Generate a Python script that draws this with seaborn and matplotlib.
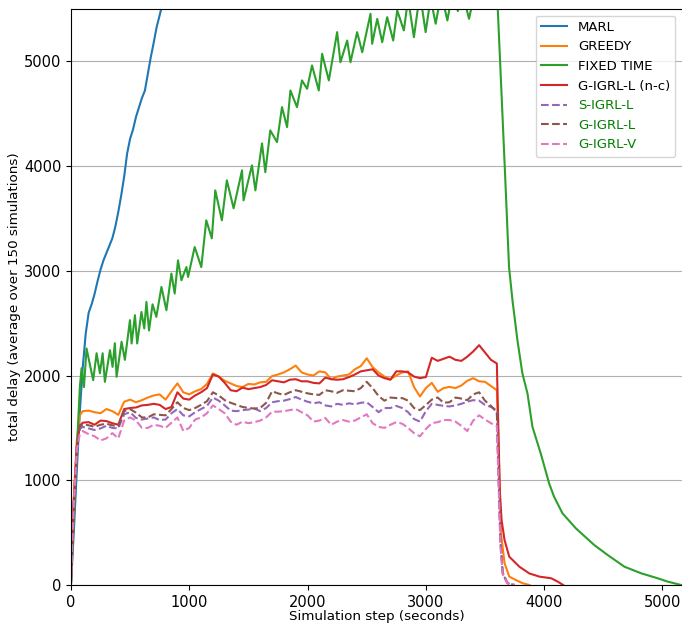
import numpy as np
import seaborn as sns
import matplotlib.pyplot as plt

# ---- data ----
marl_t = [0, 25, 50, 75, 100, 125, 150, 175, 200, 225, 250, 275, 300, 325, 350,
          375, 400, 425, 450, 475, 500, 525, 550, 575, 600, 625, 650, 675, 700,
          725, 750, 775, 800, 850]
marl_v = [0, 520, 1100, 1650, 2080, 2400, 2600, 2680, 2780, 2900, 3010, 3100,
          3170, 3240, 3310, 3420, 3560, 3720, 3900, 4120, 4260, 4350, 4470, 4560,
          4650, 4720, 4880, 5040, 5180, 5330, 5440, 5560, 5700, 5950]

fixed_t = [0, 25, 50, 76, 90, 110, 132, 188, 217, 245, 268, 287, 330, 352, 371,
           386, 428, 456, 499, 513, 541, 560, 596, 620, 638, 660, 690, 722, 765,
           807, 849, 877, 905, 934, 976, 990, 1046, 1102, 1144, 1191, 1220, 1276,
           1318, 1375, 1446, 1459, 1530, 1559, 1615, 1643, 1685, 1742, 1784, 1827,
           1855, 1911, 1953, 1996, 2038, 2095, 2123, 2180, 2250, 2278, 2335, 2363,
           2419, 2462, 2532, 2546, 2589, 2631, 2673, 2724, 2758, 2814, 2850, 2899,
           2950, 2998, 3040, 3083, 3130, 3182, 3230, 3270, 3310, 3365, 3420, 3470,
           3520, 3560, 3600, 3667, 3703, 3732, 3774, 3816, 3859, 3901, 3971, 4042,
           4084, 4155, 4268, 4423, 4537, 4678, 4819, 4960, 5045, 5158]
fixed_v = [0, 650, 1300, 1900, 2070, 1890, 2258, 1956, 2213, 2022, 2213, 1940,
           2242, 2083, 2309, 1988, 2322, 2150, 2529, 2306, 2576, 2306, 2607, 2450,
           2703, 2430, 2680, 2560, 2846, 2624, 2974, 2783, 3100, 2910, 3036, 2941,
           3227, 3036, 3482, 3310, 3768, 3482, 3864, 3597, 3959, 3673, 4007, 3768,
           4217, 3942, 4341, 4229, 4563, 4372, 4722, 4563, 4818, 4738, 4961, 4722,
           5072, 4818, 5279, 4992, 5199, 4992, 5279, 5087, 5454, 5168, 5406, 5183,
           5422, 5199, 5486, 5295, 5600, 5231, 5650, 5279, 5600, 5359, 5650, 5390,
           5700, 5480, 5650, 5406, 5700, 5500, 5700, 5550, 5700, 3990, 3036, 2719,
           2337, 2020, 1829, 1510, 1256, 970, 842, 684, 541, 382, 286, 175, 112,
           64, 32, 0]

# shared time grid of the five plateau curves (seconds)
plateau_t = [0, 10, 25, 50, 75] + list(range(100, 3601, 50))

greedy_v = [0, 400, 850, 1380, 1620,
            1660, 1665, 1650, 1640, 1680, 1660, 1625, 1750, 1770, 1745,
            1765, 1790, 1810, 1820, 1770, 1850, 1925, 1840, 1820, 1850,
            1870, 1920, 2020, 1990, 1950, 1925, 1900, 1890, 1920, 1915,
            1935, 1940, 1995, 2010, 2030, 2060, 2095, 2030, 2010, 2000,
            2040, 2030, 1965, 1990, 2000, 2010, 2060, 2090, 2165, 2080,
            2030, 1990, 1965, 2000, 2030, 2040, 1890, 1800, 1880, 1930,
            1845, 1880, 1892, 1880, 1905, 1950, 1975, 1945, 1940, 1900,
            1860]
gigrl_nc_v = [0, 380, 820, 1330, 1520,
              1550, 1555, 1530, 1570, 1565, 1545, 1530, 1680, 1690, 1695,
              1715, 1720, 1730, 1720, 1680, 1700, 1840, 1780, 1770, 1810,
              1840, 1880, 2010, 1990, 1930, 1860, 1850, 1885, 1870, 1880,
              1890, 1910, 1955, 1945, 1935, 1960, 1965, 1945, 1945, 1930,
              1925, 1980, 1965, 1960, 1965, 1985, 2010, 2040, 2050, 2060,
              2000, 1975, 1960, 2040, 2040, 2030, 1990, 1975, 1985, 2170,
              2140, 2160, 2180, 2150, 2140, 2180, 2230, 2290, 2220, 2150,
              2115]
s_igrl_l_v = [0, 370, 800, 1310, 1490,
              1510, 1495, 1480, 1495, 1520, 1500, 1495, 1630, 1650, 1595,
              1580, 1590, 1600, 1575, 1580, 1640, 1680, 1620, 1610, 1650,
              1680, 1710, 1790, 1760, 1715, 1665, 1660, 1670, 1675, 1685,
              1660, 1690, 1745, 1755, 1760, 1775, 1795, 1770, 1750, 1735,
              1745, 1715, 1705, 1730, 1720, 1735, 1725, 1740, 1745, 1700,
              1650, 1690, 1690, 1710, 1690, 1650, 1585, 1560, 1660, 1730,
              1720, 1710, 1705, 1715, 1730, 1750, 1765, 1760, 1720, 1700,
              1670]
g_igrl_l_v = [0, 380, 810, 1320, 1510,
              1535, 1525, 1510, 1530, 1540, 1525, 1515, 1660, 1680, 1645,
              1600, 1600, 1630, 1625, 1620, 1680, 1745, 1690, 1670, 1690,
              1720, 1755, 1840, 1810, 1765, 1740, 1720, 1700, 1690, 1685,
              1690, 1740, 1850, 1830, 1815, 1840, 1860, 1845, 1830, 1820,
              1815, 1860, 1850, 1835, 1860, 1855, 1850, 1880, 1940, 1880,
              1805, 1760, 1790, 1785, 1785, 1760, 1690, 1670, 1718, 1770,
              1790, 1740, 1745, 1790, 1780, 1765, 1820, 1840, 1760, 1710,
              1650]
g_igrl_v_v = [0, 360, 790, 1290, 1440,
              1470, 1440, 1420, 1380, 1400, 1450, 1400, 1570, 1600, 1570,
              1500, 1500, 1530, 1520, 1500, 1550, 1600, 1470, 1500, 1580,
              1600, 1640, 1715, 1680, 1640, 1560, 1530, 1560, 1545, 1555,
              1570, 1600, 1655, 1655, 1660, 1670, 1680, 1650, 1620, 1560,
              1570, 1595, 1530, 1560, 1575, 1560, 1570, 1600, 1630, 1545,
              1510, 1500, 1530, 1555, 1540, 1500, 1450, 1420, 1490, 1545,
              1555, 1575, 1575, 1560, 1520, 1470, 1570, 1620, 1580, 1545,
              1520]

# drain-out after the demand stops at 3600 s
greedy_tail_t = [3620, 3635, 3665, 3705, 3760, 3820, 3875]
greedy_tail_v = [1100, 490, 210, 80, 48, 16, 0]
gigrl_nc_tail_t = [3625, 3640, 3665, 3705, 3790, 3875, 3960, 4060, 4115, 4160]
gigrl_nc_tail_v = [900, 620, 430, 270, 175, 110, 80, 64, 32, 0]
s_igrl_l_tail_t = [3630, 3650, 3690, 3750]
s_igrl_l_tail_v = [420, 110, 16, 0]
g_igrl_l_tail_t = [3630, 3650, 3690, 3750]
g_igrl_l_tail_v = [430, 115, 18, 0]
g_igrl_v_tail_t = [3630, 3650, 3690, 3750]
g_igrl_v_tail_v = [380, 100, 14, 0]

labels = ['MARL', 'GREEDY', 'FIXED TIME', 'G-IGRL-L (n-c)',
          'S-IGRL-L', 'G-IGRL-L', 'G-IGRL-V']
colors = sns.color_palette('tab10', 7)

series = [
    (marl_t, marl_v),
    (plateau_t + greedy_tail_t, greedy_v + greedy_tail_v),
    (fixed_t, fixed_v),
    (plateau_t + gigrl_nc_tail_t, gigrl_nc_v + gigrl_nc_tail_v),
    (plateau_t + s_igrl_l_tail_t, s_igrl_l_v + s_igrl_l_tail_v),
    (plateau_t + g_igrl_l_tail_t, g_igrl_l_v + g_igrl_l_tail_v),
    (plateau_t + g_igrl_v_tail_t, g_igrl_v_v + g_igrl_v_tail_v),
]
styles = ['-', '-', '-', '-', '--', '--', '--']

fig = plt.figure(figsize=(6.82, 6.25), dpi=100)
ax = fig.add_axes([0.104, 0.064, 0.896, 0.9216])

for (t, v), lab, col, ls in zip(series, labels, colors, styles):
    assert len(t) == len(v), lab
    sns.lineplot(x=np.array(t), y=np.array(v), ax=ax, color=col, linestyle=ls,
                 linewidth=1.5, label=lab, sort=False, estimator=None)

ax.set_xlim(0, 5165)
ax.set_ylim(0, 5500)
ax.set_xticks([0, 1000, 2000, 3000, 4000, 5000])
ax.set_yticks([0, 1000, 2000, 3000, 4000, 5000])
ax.grid(axis='y', color='#b0b0b0', linewidth=0.8)
ax.set_axisbelow(True)
ax.spines['right'].set_visible(False)
ax.tick_params(labelsize=10.5)
ax.set_xlabel('Simulation step (seconds)', fontsize=9.7, labelpad=0.5)
ax.set_ylabel('total delay (average over 150 simulations)', fontsize=9.7,
              labelpad=2)

leg = ax.legend(loc='upper right', fontsize=9.5)
for txt in leg.get_texts()[4:]:
    txt.set_color('green')

fig.savefig('out.png', dpi=100)
